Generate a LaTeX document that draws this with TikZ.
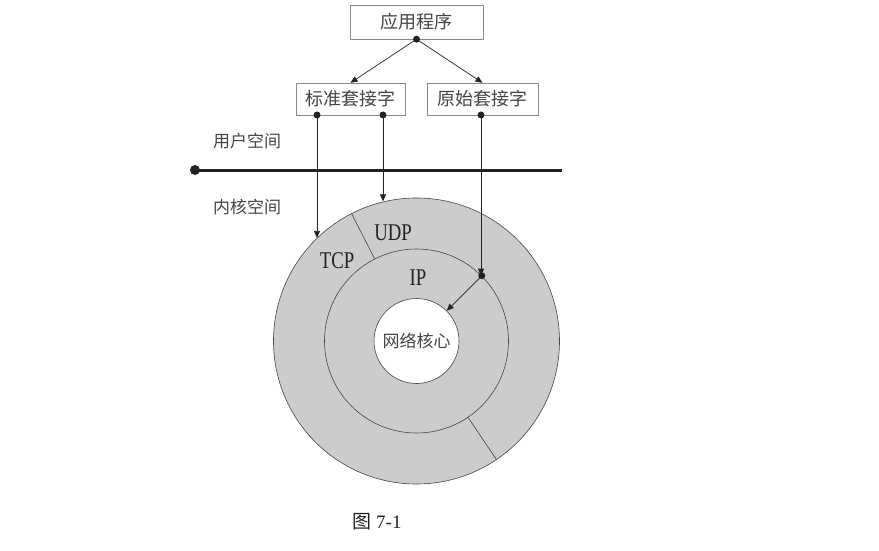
\documentclass[tikz,border=0pt]{standalone}
\usepackage{fontspec}
\setmainfont{Liberation Serif}
\newfontfamily\cjk{Noto Sans CJK SC}
\usepackage{xcolor}
\definecolor{ink}{HTML}{222222}
\definecolor{soft}{HTML}{444444}
\definecolor{frame}{HTML}{8A8A8A}
\definecolor{ringfill}{HTML}{CCCCCC}
\usetikzlibrary{arrows.meta,positioning,calc}

\begin{document}
\begin{tikzpicture}[x=1pt,y=-1pt,
  box/.style={rectangle,draw=frame,fill=white,text=soft,inner sep=0pt,
    minimum height=32pt,font=\cjk\fontsize{18}{20}\selectfont},
  arr/.style={-{Triangle[length=7pt,width=6pt]},ink,line width=0.7pt},
  dot/.style={circle,fill=ink,inner sep=0pt,minimum size=7pt},
  ring/.style={circle,draw=soft,line width=0.6pt,inner sep=0pt},
  zone/.style={text=soft,font=\cjk\fontsize{17}{20}\selectfont},
  proto/.style={text=ink,font=\fontsize{24}{26}\selectfont,xscale=0.78,transform shape}]
  \useasboundingbox (0,0) rectangle (879,551);
  % socket boxes
  \node[box,minimum width=133pt,minimum height=34pt] (app) at (416.5,22) {应用程序};
  \node[box,minimum width=109pt] (std) at (350.5,99) {标准套接字};
  \node[box,minimum width=111pt] (raw) at (482.5,99) {原始套接字};
  % rings
  \node[ring,fill=ringfill,minimum size=286pt] (outer) at (416.5,341) {};
  \node[ring,fill=ringfill,minimum size=184pt] (mid) at (416.5,341) {};
  \node[ring,fill=white,minimum size=85pt,zone] (core) at (416.5,341) {网络核心};
  \draw[soft,line width=0.6pt] (mid.117) -- (outer.117);
  \draw[soft,line width=0.6pt] (mid.-56) -- (outer.-56);
  \node[proto] (udp) at (393,233) {UDP};
  \node[proto] (tcp) at (337,261) {TCP};
  \node[proto] (ip) at (418,278) {IP};
  % user / kernel split
  \coordinate (sepL) at (195,170);
  \coordinate (sepR) at (562,170);
  \draw[ink,line width=3pt] (sepL) -- (sepR);
  \node[dot,minimum size=10pt] at (sepL) {};
  \node[zone] (user) at (247,141) {用户空间};
  \node[zone] (kern) at (247,207) {内核空间};
  % calls
  \coordinate (appout) at (app.south);
  \coordinate (tcpout) at (317,115);
  \coordinate (udpout) at (383,115);
  \coordinate (rawout) at (481,115);
  \draw[arr] (appout) -- (std.north);
  \draw[arr] (appout) -- (raw.north);
  \draw[arr] (tcpout) -- (tcpout |- outer.134.7);
  \draw[arr] (udpout) -- (udpout |- outer.103.5);
  \draw[arr] (rawout) -- (rawout |- mid.45);
  \draw[arr] (mid.45) -- (core.45);
  \foreach \p in {appout,tcpout,udpout,rawout,mid.45} \node[dot] at (\p) {};
  % caption
  \node[text=ink,font=\fontsize{19}{22}\selectfont] (cap) at (377,522) {{\cjk 图} 7-1};
\end{tikzpicture}
\end{document}
